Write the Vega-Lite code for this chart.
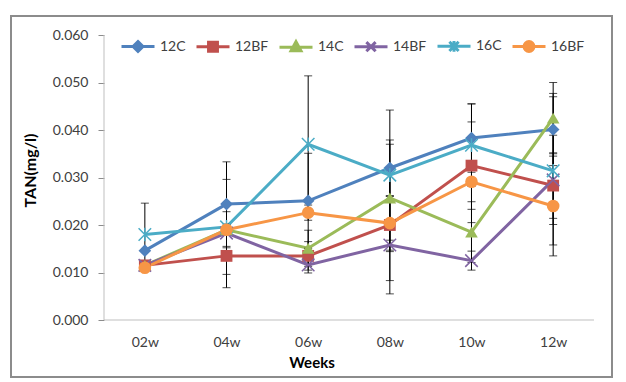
{
  "$schema": "https://vega.github.io/schema/vega-lite/v6.json",
  "autosize": {"type": "none"},
  "padding": {"left": 11, "top": 16, "right": 14, "bottom": 5},
  "width": 601,
  "height": 361,
  "background": "white",
  "config": {
    "view": {"stroke": "#8C8C8C", "strokeWidth": 2},
    "font": "Lato",
    "axis": {"grid": false}
  },
  "data": {"values": [
    {"series": "12C", "week": "02w", "wk": 2, "tan": 0.0146},
    {"series": "12C", "week": "04w", "wk": 4, "tan": 0.0244, "lo": 0.0155, "hi": 0.0333},
    {"series": "12C", "week": "06w", "wk": 6, "tan": 0.0251, "lo": 0.0151, "hi": 0.0351},
    {"series": "12C", "week": "08w", "wk": 8, "tan": 0.0320, "lo": 0.0261, "hi": 0.0379},
    {"series": "12C", "week": "10w", "wk": 10, "tan": 0.0383, "lo": 0.0311, "hi": 0.0455},
    {"series": "12C", "week": "12w", "wk": 12, "tan": 0.0401, "lo": 0.0325, "hi": 0.0477},
    {"series": "12BF", "week": "02w", "wk": 2, "tan": 0.0115},
    {"series": "12BF", "week": "04w", "wk": 4, "tan": 0.0135, "lo": 0.0068, "hi": 0.0202},
    {"series": "12BF", "week": "06w", "wk": 6, "tan": 0.0135, "lo": 0.0105, "hi": 0.0165},
    {"series": "12BF", "week": "08w", "wk": 8, "tan": 0.0200, "lo": 0.0083, "hi": 0.0317},
    {"series": "12BF", "week": "10w", "wk": 10, "tan": 0.0325, "lo": 0.0233, "hi": 0.0417},
    {"series": "12BF", "week": "12w", "wk": 12, "tan": 0.0283, "lo": 0.0214, "hi": 0.0352},
    {"series": "14C", "week": "02w", "wk": 2, "tan": 0.0115},
    {"series": "14C", "week": "04w", "wk": 4, "tan": 0.0190},
    {"series": "14C", "week": "06w", "wk": 6, "tan": 0.0151, "lo": 0.0113, "hi": 0.0189},
    {"series": "14C", "week": "08w", "wk": 8, "tan": 0.0257, "lo": 0.0144, "hi": 0.0370},
    {"series": "14C", "week": "10w", "wk": 10, "tan": 0.0185, "lo": 0.0121, "hi": 0.0249},
    {"series": "14C", "week": "12w", "wk": 12, "tan": 0.0425, "lo": 0.0350, "hi": 0.0500},
    {"series": "14BF", "week": "02w", "wk": 2, "tan": 0.0115},
    {"series": "14BF", "week": "04w", "wk": 4, "tan": 0.0183},
    {"series": "14BF", "week": "06w", "wk": 6, "tan": 0.0116, "lo": 0.0099, "hi": 0.0133},
    {"series": "14BF", "week": "08w", "wk": 8, "tan": 0.0158, "lo": 0.0055, "hi": 0.0261},
    {"series": "14BF", "week": "10w", "wk": 10, "tan": 0.0125, "lo": 0.0105, "hi": 0.0145},
    {"series": "14BF", "week": "12w", "wk": 12, "tan": 0.0295, "lo": 0.0201, "hi": 0.0389},
    {"series": "16C", "week": "02w", "wk": 2, "tan": 0.0180, "lo": 0.0114, "hi": 0.0246},
    {"series": "16C", "week": "04w", "wk": 4, "tan": 0.0196, "lo": 0.0096, "hi": 0.0296},
    {"series": "16C", "week": "06w", "wk": 6, "tan": 0.0370, "lo": 0.0226, "hi": 0.0514},
    {"series": "16C", "week": "08w", "wk": 8, "tan": 0.0305, "lo": 0.0168, "hi": 0.0442},
    {"series": "16C", "week": "10w", "wk": 10, "tan": 0.0368, "lo": 0.0281, "hi": 0.0455},
    {"series": "16C", "week": "12w", "wk": 12, "tan": 0.0314, "lo": 0.0158, "hi": 0.0470},
    {"series": "16BF", "week": "02w", "wk": 2, "tan": 0.0110},
    {"series": "16BF", "week": "04w", "wk": 4, "tan": 0.0190, "lo": 0.0152, "hi": 0.0228},
    {"series": "16BF", "week": "06w", "wk": 6, "tan": 0.0226, "lo": 0.0210, "hi": 0.0242},
    {"series": "16BF", "week": "08w", "wk": 8, "tan": 0.0204, "lo": 0.0147, "hi": 0.0261},
    {"series": "16BF", "week": "10w", "wk": 10, "tan": 0.0291, "lo": 0.0205, "hi": 0.0377},
    {"series": "16BF", "week": "12w", "wk": 12, "tan": 0.0240, "lo": 0.0135, "hi": 0.0345}
  ]},
  "resolve": {"legend": {"color": "independent", "shape": "independent", "stroke": "independent"}},
  "encoding": {
    "x": {"field": "wk", "type": "quantitative", "scale": {"domain": [-1.278, 13.441], "nice": false, "zero": false},
      "axis": {"values": [2, 4, 6, 8, 10, 12], "labelExpr": "(datum.value < 10 ? '0' : '') + datum.value + 'w'",
        "domain": false, "ticks": false, "tickSize": 0, "offset": -57, "labelPadding": 15,
        "labelFont": "Lato", "labelFontSize": 14, "labelColor": "#404040",
        "title": "Weeks", "titleFont": "Lato", "titleFontSize": 15, "titleFontWeight": "bold", "titleColor": "#000000",
        "titleY": 42, "titleBaseline": "middle"}},
    "y": {"field": "tan", "type": "quantitative", "scale": {"domain": [-0.012, 0.064], "nice": false, "zero": false},
      "axis": {"values": [0, 0.01, 0.02, 0.03, 0.04, 0.05, 0.06], "format": ".3f",
        "domain": false, "ticks": true, "tickSize": 6, "tickColor": "#8C8C8C", "offset": -93, "labelPadding": 10,
        "labelFont": "Lato", "labelFontSize": 14, "labelColor": "#404040",
        "title": "TAN(mg/l)", "titleFont": "Lato", "titleFontSize": 16, "titleFontWeight": "bold", "titleColor": "#000000",
        "titleX": -74, "titleY": 154, "titleAngle": -90, "titleAlign": "center", "titleBaseline": "middle"}}
  },
  "layer": [
    {
      "data": {"values": [{"x0": 1, "x1": 13, "yv": 0}]},
      "mark": {"type": "rule", "color": "#BFBFBF", "strokeWidth": 1},
      "encoding": {
        "x": {"field": "x0", "type": "quantitative"},
        "x2": {"field": "x1"},
        "y": {"field": "yv", "type": "quantitative"}
      }
    },
    {
      "data": {"values": [{"x0": 1, "y0": 0, "y1": 0.06}]},
      "mark": {"type": "rule", "color": "#BFBFBF", "strokeWidth": 1},
      "encoding": {
        "x": {"field": "x0", "type": "quantitative"},
        "y": {"field": "y0", "type": "quantitative"},
        "y2": {"field": "y1"}
      }
    },
    {
      "mark": {"type": "line", "strokeWidth": 3},
      "encoding": {
        "color": {"field": "series", "type": "nominal",
          "scale": {"domain": ["12C", "12BF", "14C", "14BF", "16C", "16BF"], "range": ["#4F81BD", "#C0504D", "#9BBB59", "#8064A2", "#4BACC6", "#F79646"]},
          "legend": null},
        "order": {"field": "wk", "type": "quantitative"}
      }
    },
    {
      "transform": [{"filter": "isValid(datum.lo)"}],
      "mark": {"type": "rule", "color": "#000000", "strokeWidth": 1},
      "encoding": {
        "y": {"field": "lo", "type": "quantitative"},
        "y2": {"field": "hi"}
      }
    },
    {
      "transform": [{"filter": "isValid(datum.lo)"}, {"fold": ["lo", "hi"], "as": ["end", "val"]}],
      "mark": {"type": "tick", "orient": "horizontal", "color": "#000000", "size": 8, "thickness": 1},
      "encoding": {
        "y": {"field": "val", "type": "quantitative"}
      }
    },
    {
      "transform": [{"filter": "datum.series === '12C'"}],
      "mark": {"type": "point", "shape": "diamond", "filled": true, "size": 160, "opacity": 1},
      "encoding": {"color": {"field": "series", "type": "nominal", "legend": null}}
    },
    {
      "transform": [{"filter": "datum.series === '12BF'"}],
      "mark": {"type": "point", "shape": "square", "filled": true, "size": 140, "opacity": 1},
      "encoding": {"color": {"field": "series", "type": "nominal", "legend": null}}
    },
    {
      "transform": [{"filter": "datum.series === '14C'"}],
      "mark": {"type": "point", "shape": "triangle-up", "filled": true, "size": 160, "opacity": 1},
      "encoding": {"color": {"field": "series", "type": "nominal", "legend": null}}
    },
    {
      "transform": [{"filter": "datum.series === '14BF'"}],
      "mark": {"type": "point", "shape": "M-1.1,-1.1L1.1,1.1M-1.1,1.1L1.1,-1.1", "filled": false, "strokeWidth": 1.5, "size": 130, "opacity": 1},
      "encoding": {"color": {"field": "series", "type": "nominal", "legend": null}}
    },
    {
      "transform": [{"filter": "datum.series === '16C'"}],
      "mark": {"type": "point", "shape": "M-1.1,-1.1L1.1,1.1M-1.1,1.1L1.1,-1.1M0,-1.2L0,1.2", "filled": false, "strokeWidth": 1.5, "size": 130, "opacity": 1},
      "encoding": {"color": {"field": "series", "type": "nominal", "legend": null}}
    },
    {
      "transform": [{"filter": "datum.series === '16BF'"}],
      "mark": {"type": "point", "shape": "circle", "filled": true, "size": 160, "opacity": 1},
      "encoding": {"color": {"field": "series", "type": "nominal", "legend": null}}
    },
    {
      "transform": [{"filter": "false"}],
      "mark": {"type": "point", "filled": true, "strokeWidth": 3, "opacity": 1},
      "encoding": {
        "color": {"field": "series", "type": "nominal",
          "legend": {"orient": "none", "legendX": 109, "legendY": 12, "direction": "horizontal", "columns": 6,
            "title": null, "symbolSize": 1089, "symbolStrokeWidth": 3, "labelFont": "Lato", "labelFontSize": 14,
            "labelColor": "#404040", "labelOffset": 4, "columnPadding": 4, "padding": 0}},
        "stroke": {"field": "series", "type": "nominal",
          "scale": {"domain": ["12C", "12BF", "14C", "14BF", "16C", "16BF"], "range": ["#4F81BD", "#C0504D", "#9BBB59", "#8064A2", "#4BACC6", "#F79646"]},
          "legend": {"orient": "none", "legendX": 109, "legendY": 12, "direction": "horizontal", "columns": 6,
            "title": null, "symbolSize": 1089, "symbolStrokeWidth": 3, "labelFont": "Lato", "labelFontSize": 14,
            "labelColor": "#404040", "labelOffset": 4, "columnPadding": 4, "padding": 0}},
        "shape": {"field": "series", "type": "nominal",
          "scale": {"domain": ["12C", "12BF", "14C", "14BF", "16C", "16BF"],
            "range": [
              "M-1,0H1M0,-0.3L0.3,0L0,0.3L-0.3,0Z",
              "M-1,0H1M-0.27,-0.27H0.27V0.27H-0.27Z",
              "M-1,0H1M0,-0.33L0.3,0.22H-0.3Z",
              "M-1,0H1M-0.28,-0.28L0.28,0.28M-0.28,0.28L0.28,-0.28",
              "M-1,0H1M-0.28,-0.28L0.28,0.28M-0.28,0.28L0.28,-0.28M0,-0.32L0,0.32",
              "M-1,0H1M0.3,0A0.3,0.3,0,1,1,-0.3,0A0.3,0.3,0,1,1,0.3,0Z"
            ]},
          "legend": {"orient": "none", "legendX": 109, "legendY": 12, "direction": "horizontal", "columns": 6,
            "title": null, "symbolSize": 1089, "symbolStrokeWidth": 3, "labelFont": "Lato", "labelFontSize": 14,
            "labelColor": "#404040", "labelOffset": 4, "columnPadding": 4, "padding": 0}}
      }
    }
  ]
}
